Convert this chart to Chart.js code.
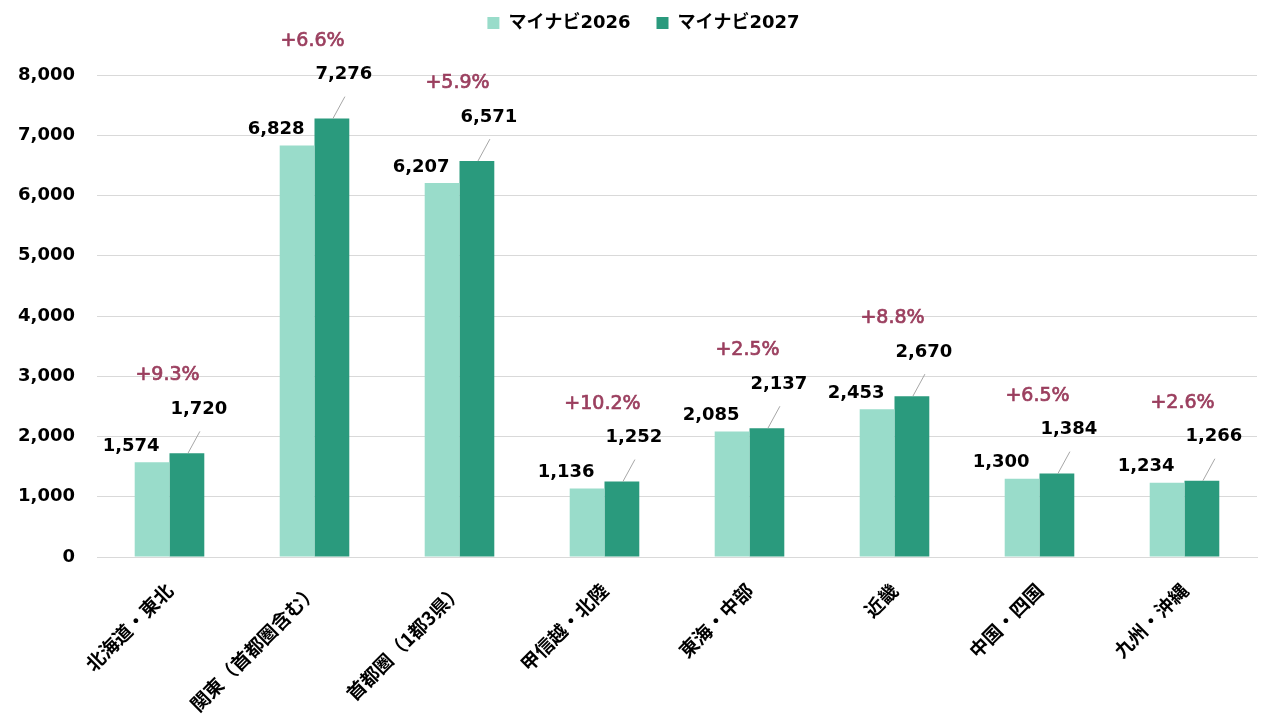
<!DOCTYPE html>
<html lang="ja">
<head>
<meta charset="utf-8">
<script src="https://cdn.jsdelivr.net/npm/chart.js@4"></script>
<style>
  html, body { margin: 0; padding: 0; background: #fff; }
  #wrap { width: 1280px; height: 720px; }
</style>
</head>
<body>
<div id="wrap"><canvas id="chart" width="1280" height="720"></canvas></div>
<script>
const regions = ["北海道・東北", "関東（首都圏含む）", "首都圏（1都3県）", "甲信越・北陸", "東海・中部", "近畿", "中国・四国", "九州・沖縄"];
const values2026 = [1574, 6828, 6207, 1136, 2085, 2453, 1300, 1234];
const values2027 = [1720, 7276, 6571, 1252, 2137, 2670, 1384, 1266];
const growthLabels = ["+9.3%", "+6.6%", "+5.9%", "+10.2%", "+2.5%", "+8.8%", "+6.5%", "+2.6%"];
const yTicks = [0, 1000, 2000, 3000, 4000, 5000, 6000, 7000, 8000];

const NUM_FONT = '"DejaVu Sans", "Noto Sans CJK JP", sans-serif';
const JP_FONT = '"Noto Sans CJK JP", "DejaVu Sans", sans-serif';

// push the plot area down below the legend, and nudge the legend to the right
const legendSpacer = {
  id: "legendSpacer",
  beforeInit(chart) {
    const fit = chart.legend.fit;
    chart.legend.fit = function () {
      fit.bind(chart.legend)();
      this.height += 33;
    };
  },
  afterLayout(chart) {
    chart.legend.left += 15;
    chart.legend.right += 15;
  },
};

// value labels, leader lines and growth rates
const barLabels = {
  id: "barLabels",
  afterDatasetsDraw(chart) {
    const ctx = chart.ctx;
    const meta0 = chart.getDatasetMeta(0);
    const meta1 = chart.getDatasetMeta(1);
    ctx.save();
    ctx.textAlign = "center";
    ctx.textBaseline = "middle";
    meta0.data.forEach((bar, i) => {
      ctx.font = "bold 18px " + NUM_FONT;
      ctx.fillStyle = "#000";
      ctx.fillText(values2026[i].toLocaleString("en-US"), bar.x - 21, bar.y - 16);
    });
    meta1.data.forEach((bar, i) => {
      ctx.strokeStyle = "#a6a6a6";
      ctx.lineWidth = 1;
      ctx.beginPath();
      ctx.moveTo(bar.x + 1, bar.y);
      ctx.lineTo(bar.x + 13, bar.y - 22);
      ctx.stroke();
      ctx.font = "bold 18px " + NUM_FONT;
      ctx.fillStyle = "#000";
      ctx.fillText(values2027[i].toLocaleString("en-US"), bar.x + 12, bar.y - 44);
      const cx = chart.scales.x.getPixelForValue(i);
      ctx.font = "19px " + NUM_FONT;
      ctx.fillStyle = "#9b3f5f";
      ctx.strokeStyle = "#9b3f5f";
      ctx.lineWidth = 0.7;
      ctx.fillText(growthLabels[i], cx - 2, bar.y - 78);
      ctx.strokeText(growthLabels[i], cx - 2, bar.y - 78);
    });
    ctx.restore();
  },
};

new Chart(document.getElementById("chart"), {
  type: "bar",
  data: {
    labels: regions,
    datasets: [
      {
        label: "マイナビ2026",
        data: values2026,
        backgroundColor: "#99dcca",
        categoryPercentage: 0.48,
        barPercentage: 1.0,
      },
      {
        label: "マイナビ2027",
        data: values2027,
        backgroundColor: "#2a9a7d",
        categoryPercentage: 0.48,
        barPercentage: 1.0,
      },
    ],
  },
  options: {
    responsive: false,
    animation: false,
    layout: { padding: { top: -12, right: 23, bottom: 0, left: 0 } },
    plugins: {
      legend: {
        position: "top",
        labels: {
          boxWidth: 12,
          boxHeight: 12,
          padding: 26,
          color: "#000",
          font: { family: NUM_FONT, size: 18, weight: "bold" },
        },
      },
      tooltip: { enabled: false },
    },
    scales: {
      x: {
        grid: { display: false, drawTicks: false },
        border: { color: "#d9d9d9" },
        afterFit(scale) {
          scale.height = 163;
        },
        ticks: {
          maxRotation: 45,
          minRotation: 45,
          padding: 22,
          labelOffset: 0,
          color: "#000",
          font: { family: JP_FONT, size: 19, weight: "bold" },
        },
      },
      y: {
        min: 0,
        max: 8000,
        afterFit(scale) {
          scale.width = 97;
        },
        afterBuildTicks(scale) {
          scale.ticks = yTicks.map((v) => ({ value: v }));
        },
        grid: { color: "#d9d9d9", drawTicks: false },
        border: { display: false },
        ticks: {
          padding: 22,
          color: "#000",
          font: { family: NUM_FONT, size: 18, weight: "bold" },
          callback: (v) => v.toLocaleString("en-US"),
        },
      },
    },
  },
  plugins: [legendSpacer, barLabels],
});
</script>
</body>
</html>
